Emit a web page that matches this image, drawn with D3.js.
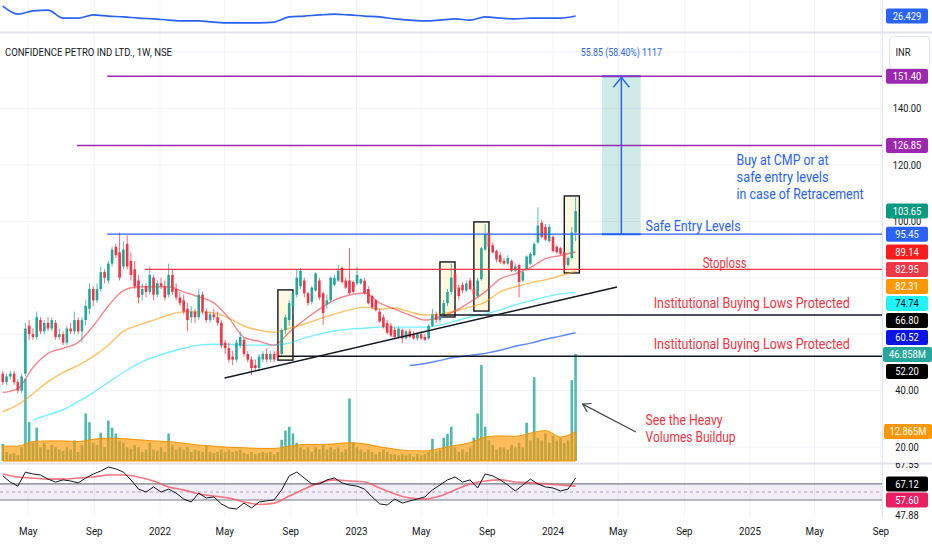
<!DOCTYPE html>
<html>
<head>
<meta charset="utf-8">
<script src="https://cdn.jsdelivr.net/npm/d3@7"></script>
<style>
  body { margin: 0; background: #fff; }
  svg { display: block; font-family: Roboto, "Noto Sans", sans-serif; }
</style>
</head>
<body>
<div id="chart"></div>
<script>
// ---- data (weekly candles, first week starts 2021-03-15) ----
const firstWeek = "2021-03-15";

const opens = [46,43,45,46,43,40,46,63,60,59,65,61,64,62,64,59,60,57,62,61,65,61,65,69,76,72,76,82,79,85,
  91,89,84,92,86,83,79,74,77,75,80,74,78,77,74,81,76,73,72,69,66,68,66,74,68,65,67,66,64,57,
  55,52,51,56,58,53,51,49,48,51,53,51,53,54,53,61.5,65,70,74,77,79,74.5,71.5,75.5,79,74.5,70.5,72,77.5,79,
  83.5,79,79,78.5,78,78,79,76,73.5,72,68,66,64,63,61.5,59,61.5,58.5,61,60,58.5,60,59,58.5,63,67,65,66.5,71,75,
  81.5,76.5,77.5,75.5,79,76,73.5,79.5,90,96,91.5,89.5,88,86,85,86,82.5,84.5,79,83,85,88,92.5,99.5,98,93,94.5,91,90.5,89,
  84.5,87,96];
const highs = [47,46,47,47,44,46,64,65,62,68,66,65,66,66,65,62,61,63,64,68,66,66,72,78,77,78,84,83,86,91,
  92,96,93,95,89,86,81,78,78,84,81,79,80,79,85,83,78,75,74,71,70,69,76,75,69,68,69,68,65,58,
  57,54,58,61,59,54,52,51,53,54,55,54,54,56,62,67,72,75,83,83.5,80,75,77,82,80,75,74,80.5,81,84.5,
  84,80,90.5,79,84,80,80,77,74,72.5,69,67,65,64,62.5,62.5,62,61.5,62,61,60.5,61,60,63.5,69,68,67,72,76,85,
  82,77.5,78.5,79,80,77,80,91,99,96.5,92.5,90,89,87,88,86.5,85,85,83,88,89,92.5,105,100.5,99,99,95,91.5,91,89.5,
  87.5,98,108.5];
const lows = [42,42,44,42,39,39,45,58,58,58,60,60,61,61,58,58,56,56,60,60,60,57,63,67,70,71,75,78,78,84,
  87,79,83,83,79,76,71,72,73,74,72,73,76,72,73,74,72,70,67,61,64,64,65,67,64,64,65,63,55,53,
  50,49,50,55,52,50,45.5,47,47,50,50,50,50,51,52,60,63,67,73,76,73,70,70.5,75,72,63.3,69,71.5,77,78.5,
  78,76,74,74.5,77.5,77.5,74,70.5,69,68,64,62,60,59,58.5,58.5,56.8,58,58.5,58,57.5,58,57.5,58,62.5,64,64,66,70,74,
  75,72,74.5,75,75.5,72.5,73,79,89.5,90,88.5,85.5,85,84.5,84.5,82,82,73,78.5,82.5,84.5,87.5,92,94,93,92.5,89,88.5,88,82,
  84,86.5,93];
const closes = [43,45,46,43,40,45,62,60,59,66,61,64,62,65,59,60,57,62,61,65,61,65,70,76,72,76,82,80,85,90,
  88,80,90,84,81,77,73,76,75,81,74,78,77,73,81,75,73,71,68,65,68,66,74,68,65,67,66,64,56,55,
  51,51,57,59,53,51,48,48,52,53,51,53,51,52,61.5,66,71,74.5,80,82.5,74.5,71,76.5,81.5,73,67.5,72,80,80,82.5,
  78.5,76.5,74.5,75,81,79.5,74.5,71,69.5,68.5,64.5,62.5,60.5,59.5,59,62,58.5,61,59,58.5,60,58.5,58,63,67,65,66.5,71,75,80,
  76,73.5,75.5,78,76,74,79,90.5,95.5,91,89,86.5,85.5,85,87,82.5,84,78.5,82,87.5,88.5,92,98.5,94.5,93.5,98,89.5,89,88.5,84.5,
  87,96,103.65];
// volume, millions
const volumes = [7.5,4,3,3.5,2.5,6,36,17,8,14.6,6,8,5,7,6,5,4.5,6,5,9,4,7,20.8,17,8,7,12.4,6,17.7,14.6,
  12,9,8,6,5.5,7,6,4,5,8,5,4.5,6,4,12,7,5,6,5,6,4,5,4.5,4,6.6,4,3.5,4,5,4,
  5,4,4.5,5,3.5,3,4,3,3.5,4,3.5,4,3,4,9.3,13.3,15,12,8,6,5,6,4,6,5,7,5,6,5,6,
  4,5,27.4,8,6,5,4,5,4,3,4,5,4,3,3,2.5,3,2.5,3,2,3,2.5,3,4,9.7,4,5,10.2,11.9,15,
  6,4,5,4,6,10.2,20.8,42,15,9,7,5,6,6,5,7,6,8,6,16.8,9,36.7,10,9,12,8,11,9,10,8,
  9,35.4,46.858];

// moving averages read every 4th week (week index 0, 4, 8 ...)
const ema20 = [39.3,40.7,48.2,53.2,55,57.1,62.9,70,75.4,76.8,76.8,76.8,75,73.2,71.1,65.7,58.9,57.5,56.1,60.7,
  65,68.9,72.1,73.9,74.6,71.1,68.9,66.8,65,66.1,68.2,71.4,75,79.6,81.4,83.6,86.8,87.9,89.14];
const ema50 = [32.5,35,38.9,43.2,46.4,48.9,52.1,56.1,61.1,63.2,65,66.8,67.9,67.9,67.5,65.7,62.9,61.4,60.7,62.1,
  63.6,65.4,67.1,68.6,69.6,68.9,69.3,67.9,66.8,67.1,68.2,69.6,71.4,75,76.8,78.2,79.3,80.7,82.31];
// from week 8
const ema100 = [29.6,31.4,33.2,36.1,39.3,42.9,46.4,49.6,51.8,53.6,55,56.1,56.4,56.4,56.1,56.1,56.1,56.8,58.6,60,
  61.1,61.8,62.1,62.5,62.5,62.5,62.5,63.2,64.6,66.1,67.1,68.6,70.4,71.8,73.2,74.3,74.74];
// from week 108
const ema200 = [48.9,49.6,50.7,51.8,52.5,53.2,54.3,55.7,56.8,58.2,59.3,60.52];
const volumeMA = [6.5,6.5,8.5,8.8,8.8,8.5,9.5,10,9.8,9.3,8.8,8.5,7.8,7,6.5,6,5.8,5.5,5.5,6.5,
  7.2,7.2,7.5,8,7.5,6.2,5.2,4.5,4.4,5.5,6.8,8,10.5,11,10.8,12.2,13.3,10.5,12.865];
const topIndicator = [28.9,26.9,27.7,27.9,25.9,25.9,26.7,26.4,26.2,25.9,25.7,25.4,25.2,25.2,24.9,24.7,24.7,24.7,24.9,26.2,
  26.4,26.7,26.9,26.7,26.4,26.2,25.7,25.4,25.2,25.4,25.7,25.4,26.2,25.9,25.7,25.9,25.9,25.9,26.429];
// RSI read every 2nd week, its average every 4th week
const rsi = [62.4,60.1,58.6,63.8,63.1,62.7,61.2,60.1,60.9,60.5,59.8,61.6,63.1,64.2,65.7,65,63.8,60.9,57.5,56.4,
  58.3,56.4,57.5,56,53.8,52.7,56,54.2,54.6,52,50.5,50.1,52.3,50.5,52.7,53.1,53.5,57.2,62.4,63.8,
  61.6,59.4,59.4,60.9,61.6,59.8,59,58.6,57.5,54.6,52,51.6,53.8,52.3,53.1,53.8,54.6,57.2,59,60.9,
  62,60.1,60.9,57.9,63.1,62.4,60.9,59,56.8,59,61.2,59.4,58.3,57.9,56.8,57.5,61.6];
const rsiMA = [63.1,62,61.6,61.2,61.2,61.6,62,62.7,62.7,62,60.5,58.3,57.2,55.7,54.9,54.2,52.7,51.8,52.3,54.9,
  57.5,59.8,60.9,60.5,60.1,57.9,55.7,54.2,53.8,54.9,57.2,59.4,60.5,60.9,60.1,59.8,59.4,59,58.6];
const rsiBand = [53.45, 56.4, 59.4];

const priceTicks = [20, 40, 60, 80, 100, 120, 140, 160];
const rsiTicks = [47.88, 67.55];

// ---- layout ----
const W = 932, H = 550, plotRight = 882;
const parse = d3.utcParse("%Y-%m-%d");
const weekStart = parse(firstWeek);
const weeks = d3.utcMonday.range(weekStart, d3.utcMonday.offset(weekStart, closes.length));
const candles = weeks.map((d, i) => ({ date: d, o: opens[i], h: highs[i], l: lows[i], c: closes[i], v: volumes[i] }));
const sampled = (arr, start, step) => arr.map((v, k) => ({ date: weeks[start + k * step], v }));

const x = d3.scaleTime().domain([parse("2022-01-01"), parse("2024-01-01")]).range([160, 553]);
const yP = d3.scaleLinear().domain([20, 140]).range([447, 108.5]);
const yV = d3.scaleLinear().domain([0, 46.858]).range([461, 354]);
const yR = d3.scaleLinear().domain([47.88, 67.55]).range([515, 462]);
const yT = d3.scaleLinear().domain([24.429, 28.429]).range([24, 8]);

const svg = d3.select("#chart").append("svg").attr("width", W).attr("height", H);
svg.append("rect").attr("width", W).attr("height", H).attr("fill", "#fff");

const defs = svg.append("defs");
function clip(id, x0, y0, w, h) {
  defs.append("clipPath").attr("id", id).append("rect").attr("x", x0).attr("y", y0).attr("width", w).attr("height", h);
}
clip("cTop", 0, 0, plotRight, 32);
clip("cMain", 0, 33, plotRight, 430);
clip("cRsi", 0, 464, plotRight, 53);
clip("cRsiAxis", plotRight, 463, 50, 60);

function sText(g, px, py, str, color, size, k) {
  return g.append("text")
    .attr("transform", `translate(${px},${py}) scale(${k || 0.85},1)`)
    .attr("text-anchor", "middle")
    .attr("dy", "0.35em")
    .attr("fill", color || "#131722")
    .style("font-size", (size || 11) + "px")
    .text(str);
}

// grid
const monthTicks = d3.utcMonth.every(4).range(parse("2021-05-01"), parse("2025-10-01"));
svg.append("g").selectAll("line").data(monthTicks).join("line")
  .attr("x1", d => x(d)).attr("x2", d => x(d)).attr("y1", 0).attr("y2", 517)
  .attr("stroke", "#f0f3fa");
svg.append("g").attr("clip-path", "url(#cMain)").selectAll("line").data(priceTicks).join("line")
  .attr("x1", 0).attr("x2", plotRight).attr("y1", d => yP(d)).attr("y2", d => yP(d))
  .attr("stroke", "#f0f3fa");

// ---- top pane ----
const gTop = svg.append("g").attr("clip-path", "url(#cTop)");
gTop.append("path").datum(sampled(topIndicator, 0, 4))
  .attr("fill", "none").attr("stroke", "#2962ff").attr("stroke-width", 1.6)
  .attr("d", d3.line().x(d => x(d.date)).y(d => yT(d.v)).curve(d3.curveMonotoneX));

// ---- main pane ----
const g = svg.append("g").attr("clip-path", "url(#cMain)");

const boxes = [
  ["2022-08-08", "2022-09-05", 75.7, 50.8],
  ["2023-06-05", "2023-07-03", 85.6, 66.1],
  ["2023-08-07", "2023-09-04", 99.8, 68.2],
  ["2024-01-22", "2024-02-19", 109, 81.7]
];
g.append("g").selectAll("rect").data(boxes).join("rect")
  .attr("x", d => x(parse(d[0]))).attr("width", d => x(parse(d[1])) - x(parse(d[0])))
  .attr("y", d => yP(d[2])).attr("height", d => yP(d[3]) - yP(d[2]))
  .attr("fill", "rgba(255,236,153,0.3)").attr("stroke", "#131722").attr("stroke-width", 1.4);

// long position tool
const lpL = x(parse("2024-04-01")), lpR = x(parse("2024-06-12"));
const lpTop = yP(151.40), lpBot = yP(95.45), lpC = (lpL + lpR) / 2;
g.append("rect").attr("x", lpL).attr("width", lpR - lpL).attr("y", lpTop).attr("height", lpBot - lpTop)
  .attr("fill", "rgba(8,153,129,0.2)");
[lpTop, lpBot].forEach(yy => g.append("line").attr("x1", lpL).attr("x2", lpR).attr("y1", yy).attr("y2", yy)
  .attr("stroke", "#2962ff").attr("stroke-width", 2));
g.append("line").attr("x1", lpC).attr("x2", lpC).attr("y1", lpBot).attr("y2", lpTop + 1)
  .attr("stroke", "#2962ff").attr("stroke-width", 1.5);
g.append("path").attr("d", `M${lpC - 8},${lpTop + 11}L${lpC},${lpTop + 1}L${lpC + 8},${lpTop + 11}`)
  .attr("fill", "none").attr("stroke", "#2962ff").attr("stroke-width", 1.5);

// volume
const bw = 2.6;
g.append("g").selectAll("rect").data(candles).join("rect")
  .attr("x", d => x(d.date) - bw / 2).attr("width", bw)
  .attr("y", d => yV(d.v)).attr("height", d => yV(0) - yV(d.v))
  .attr("fill", "#26a69a").attr("opacity", 0.8);
const volPts = sampled(volumeMA, 0, 4);
g.append("path").datum(volPts)
  .attr("fill", "#ff9800").attr("fill-opacity", 0.65).attr("stroke", "#f59200").attr("stroke-width", 1)
  .attr("d", d3.area().x(d => x(d.date)).y0(yV(0)).y1(d => yV(d.v)).curve(d3.curveMonotoneX));

// moving averages
const maLine = d3.line().x(d => x(d.date)).y(d => yP(d.v)).curve(d3.curveMonotoneX);
[[ema200, 108, "#2962ff", 0.75], [ema100, 8, "#00e5ff", 0.55], [ema50, 0, "#ff9800", 0.6], [ema20, 0, "#f23645", 0.6]]
  .forEach(([arr, start, color, op]) => {
    g.append("path").datum(sampled(arr, start, 4))
      .attr("fill", "none").attr("stroke", color).attr("stroke-opacity", op).attr("stroke-width", 1.4)
      .attr("d", maLine);
  });

// candles
const up = "#26a69a", down = "#f23645";
const cg = g.append("g").selectAll("g").data(candles).join("g");
cg.append("line")
  .attr("x1", d => x(d.date)).attr("x2", d => x(d.date))
  .attr("y1", d => yP(d.h)).attr("y2", d => yP(d.l))
  .attr("stroke", d => d.c >= d.o ? up : down).attr("stroke-opacity", 0.75).attr("stroke-width", 1);
cg.append("rect")
  .attr("x", d => x(d.date) - bw / 2).attr("width", bw)
  .attr("y", d => yP(Math.max(d.o, d.c)))
  .attr("height", d => Math.max(1, Math.abs(yP(d.o) - yP(d.c))))
  .attr("fill", d => d.c >= d.o ? up : down);

// horizontal levels and trend line
const hLines = [
  ["2021-09-25", 151.40, "#9c27b0", 1.5],
  ["2021-07-31", 126.85, "#9c27b0", 1.5],
  ["2021-09-25", 95.45, "#2962ff", 1.2],
  ["2021-12-04", 82.95, "#f23645", 1.2],
  ["2023-06-05", 66.80, "#131722", 1.5],
  ["2022-08-08", 52.20, "#131722", 1.5]
];
g.append("g").selectAll("line").data(hLines).join("line")
  .attr("x1", d => x(parse(d[0]))).attr("x2", plotRight)
  .attr("y1", d => yP(d[1])).attr("y2", d => yP(d[1]))
  .attr("stroke", d => d[2]).attr("stroke-width", d => d[3]);
g.append("line")
  .attr("x1", x(parse("2022-05-01"))).attr("y1", yP(44.46))
  .attr("x2", x(parse("2024-04-29"))).attr("y2", yP(76.72))
  .attr("stroke", "#131722").attr("stroke-width", 1.5);

// annotations
const blue = "#2962ff", red = "#f23645";
function note(date, price, str, color, len) {
  g.append("text").attr("x", x(parse(date))).attr("y", yP(price)).attr("dy", "0.35em")
    .attr("fill", color).style("font-size", "15px")
    .attr("textLength", len).attr("lengthAdjust", "spacingAndGlyphs").text(str);
}
note("2024-12-07", 121.9, "Buy at CMP or at", blue, 92);
note("2024-12-07", 115.8, "safe entry levels", blue, 92);
note("2024-12-07", 109.8, "in case of Retracement", blue, 127);
note("2024-06-21", 98.5, "Safe Entry Levels", blue, 95);
note("2024-10-05", 85.3, "Stoploss", red, 44);
note("2024-07-06", 71.0, "Institutional Buying Lows Protected", red, 196);
note("2024-07-06", 56.5, "Institutional Buying Lows Protected", red, 196);
note("2024-06-21", 29.6, "See the Heavy", red, 77);
note("2024-06-21", 23.6, "Volumes Buildup", red, 90);

const ax0 = x(parse("2024-06-03")), ay0 = yP(25.3), ax1 = x(parse("2024-02-25")), ay1 = yP(35.2);
g.append("line").attr("x1", ax0).attr("y1", ay0).attr("x2", ax1).attr("y2", ay1)
  .attr("stroke", "#434651").attr("stroke-width", 1.2);
const ang = Math.atan2(ay0 - ay1, ax0 - ax1);
const head = [ang - 0.55, ang + 0.55].map(a => [ax1 + 9 * Math.cos(a), ay1 + 9 * Math.sin(a)]);
g.append("path").attr("d", `M${head[0]}L${ax1},${ay1}L${head[1]}`)
  .attr("fill", "none").attr("stroke", "#434651").attr("stroke-width", 1.2);

svg.append("text").attr("x", lpC).attr("y", lpTop - 24).attr("dy", "0.35em").attr("text-anchor", "middle")
  .attr("fill", blue).style("font-size", "11px").attr("textLength", 81).attr("lengthAdjust", "spacingAndGlyphs")
  .text("55.85 (58.40%) 1117");
svg.append("text").attr("x", 5).attr("y", 52).attr("dy", "0.35em")
  .attr("fill", "#131722").style("font-size", "11px").attr("textLength", 167).attr("lengthAdjust", "spacingAndGlyphs")
  .text("CONFIDENCE PETRO IND LTD., 1W, NSE");

// ---- RSI pane ----
const gr = svg.append("g").attr("clip-path", "url(#cRsi)");
gr.append("rect").attr("x", 0).attr("width", plotRight)
  .attr("y", yR(rsiBand[2])).attr("height", yR(rsiBand[0]) - yR(rsiBand[2]))
  .attr("fill", "rgba(126,87,194,0.1)");
gr.selectAll("line.band").data(rsiBand).join("line").attr("class", "band")
  .attr("x1", 0).attr("x2", plotRight).attr("y1", d => yR(d)).attr("y2", d => yR(d))
  .attr("stroke", "#787b86").attr("stroke-width", (d, i) => i === 1 ? 1 : 1.2)
  .attr("stroke-dasharray", (d, i) => i === 1 ? "3,3" : null).attr("stroke-opacity", (d, i) => i === 1 ? 0.6 : 1);
gr.append("path").datum(sampled(rsiMA, 0, 4))
  .attr("fill", "none").attr("stroke", "#f7525f").attr("stroke-opacity", 0.8).attr("stroke-width", 1.6)
  .attr("d", d3.line().x(d => x(d.date)).y(d => yR(d.v)).curve(d3.curveMonotoneX));
gr.append("path").datum(sampled(rsi, 0, 2))
  .attr("fill", "none").attr("stroke", "#131722").attr("stroke-width", 1)
  .attr("d", d3.line().x(d => x(d.date)).y(d => yR(d.v)));

// ---- separators ----
[32.5, 463.5].forEach(yy => svg.append("line").attr("x1", 0).attr("x2", W).attr("y1", yy).attr("y2", yy)
  .attr("stroke", "#e0e3eb").attr("stroke-width", 2));
svg.append("line").attr("x1", plotRight + 0.5).attr("x2", plotRight + 0.5).attr("y1", 0).attr("y2", 517)
  .attr("stroke", "#e0e3eb");

// ---- time axis ----
const tAxis = svg.append("g");
monthTicks.forEach(d => {
  const lab = d.getUTCMonth() === 0 ? d3.utcFormat("%Y")(d) : d3.utcFormat("%b")(d);
  sText(tAxis, x(d), 531, lab, "#131722", 11.5);
});

// ---- right scale ----
const gAx = svg.append("g");
function tag(yy, str, bg, fg, x0, w) {
  gAx.append("rect").attr("x", x0).attr("y", yy - 7.5).attr("width", w).attr("height", 15)
    .attr("rx", 2).attr("fill", bg);
  sText(gAx, x0 + w / 2, yy, str, fg);
}
const priceTags = [
  [yP(151.40), "151.40", "#9c27b0"],
  [yP(126.85), "126.85", "#9c27b0"],
  [yP(103.65), "103.65", "#089981"],
  [yP(95.45), "95.45", "#2962ff"],
  [yP(89.14), "89.14", "#ff1b1b"],
  [yP(82.95), "82.95", "#f23645"],
  [yP(82.31), "82.31", "#ff9800"],
  [yP(74.74), "74.74", "#1ff3f7", "#131722"],
  [yP(66.80), "66.80", "#000000"],
  [yP(60.52), "60.52", "#0a14e6"],
  [yV(46.858), "46.858M", "#26a69a", "#fff", true],
  [yP(52.20), "52.20", "#000000"]
].sort((a, b) => a[0] - b[0]);
let lastY = -100;
priceTags.forEach(t => {
  t.y = Math.max(t[0], lastY + 17);
  lastY = t.y;
});
// tick labels that a tag would hide completely are left out
const tagYs = priceTags.map(t => t.y).concat([yV(12.865)]);
priceTicks
  .filter(v => yP(v) > 72 && tagYs.every(ty => Math.abs(ty - yP(v)) > 9))
  .forEach(v => sText(gAx, 907, yP(v), v.toFixed(2)));
const gRa = svg.append("g").attr("clip-path", "url(#cRsiAxis)");
rsiTicks.forEach(v => sText(gRa, 907, yR(v) + (v === rsiTicks[1] ? 2 : 0), v.toFixed(2)));

priceTags.forEach(t => {
  if (t[4]) tag(t.y, t[1], t[2], t[3] || "#fff", 883, 49);
  else tag(t.y, t[1], t[2], t[3] || "#fff", 886, 42);
});
tag(yV(12.865), "12.865M", "#ff9800", "#fff", 884, 48);
tag(yT(26.429), "26.429", "#2962ff", "#fff", 886, 42);
tag(484, "67.12", "#000000", "#fff", 886, 42);
tag(500, "57.60", "#e91e63", "#fff", 886, 42);

// currency box
svg.append("rect").attr("x", 889.5).attr("y", 36.5).attr("width", 40).attr("height", 32).attr("rx", 4)
  .attr("fill", "#fff").attr("stroke", "#e0e3eb");
sText(svg, 903, 52, "INR", "#131722", 11);
</script>
</body>
</html>
